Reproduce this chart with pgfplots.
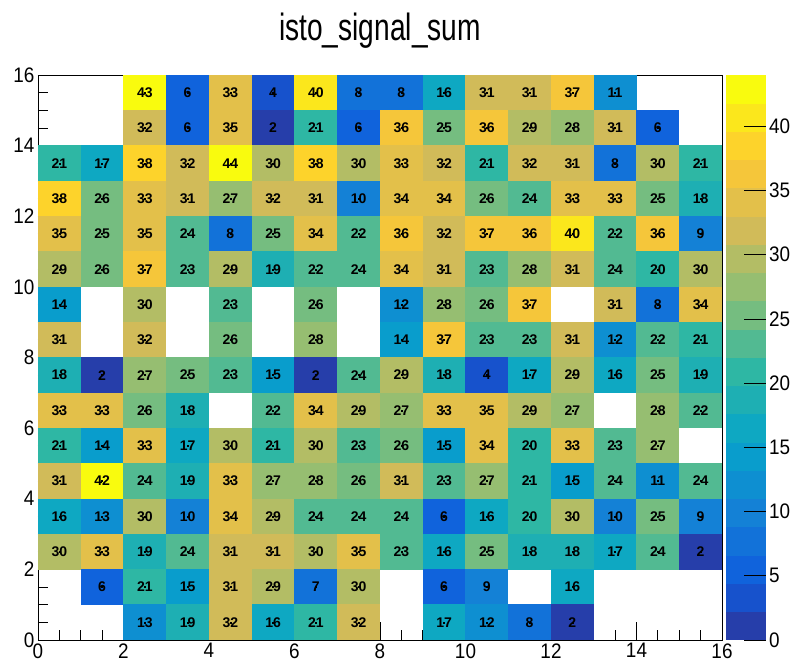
\documentclass[border=0pt]{standalone}
\usepackage{pgfplots}
\pgfplotsset{compat=1.18}
\usepackage{pgfplotstable}
\usepackage{fontspec}
\setmainfont{Liberation Sans}
\newfontfamily\titlefont[FakeStretch=0.74]{Liberation Sans}
\newfontfamily\tickfont[FakeStretch=0.9]{Liberation Sans}

\pgfplotsset{
  colormap={birdsteps}{
    rgb=(0.1486,0.2438,0.6649) rgb=(0.0890,0.3212,0.8006) rgb=(0.0630,0.3887,0.8624)
    rgb=(0.0705,0.4464,0.8505) rgb=(0.0780,0.5041,0.8385) rgb=(0.0561,0.5592,0.8197)
    rgb=(0.0342,0.6143,0.8008) rgb=(0.0546,0.6571,0.7616) rgb=(0.1174,0.6874,0.7021)
    rgb=(0.1802,0.7178,0.6425) rgb=(0.3202,0.7304,0.5720) rgb=(0.4601,0.7429,0.5015)
    rgb=(0.5878,0.7459,0.4429) rgb=(0.7032,0.7394,0.3964) rgb=(0.8186,0.7328,0.3499)
    rgb=(0.8894,0.7542,0.2887) rgb=(0.9602,0.7755,0.2274) rgb=(0.9918,0.8256,0.1682)
    rgb=(0.9841,0.9044,0.1110) rgb=(0.9764,0.9832,0.0539)
  }
}

\pgfplotstableread[row sep=\\]{
x y v \\
2.5 15.5 43 \\ 3.5 15.5 6 \\ 4.5 15.5 33 \\ 5.5 15.5 4 \\ 6.5 15.5 40 \\ 7.5 15.5 8 \\ 8.5 15.5 8 \\ 9.5 15.5 16 \\ 10.5 15.5 31 \\ 11.5 15.5 31 \\ 12.5 15.5 37 \\ 13.5 15.5 11 \\
2.5 14.5 32 \\ 3.5 14.5 6 \\ 4.5 14.5 35 \\ 5.5 14.5 2 \\ 6.5 14.5 21 \\ 7.5 14.5 6 \\ 8.5 14.5 36 \\ 9.5 14.5 25 \\ 10.5 14.5 36 \\ 11.5 14.5 29 \\ 12.5 14.5 28 \\ 13.5 14.5 31 \\ 14.5 14.5 6 \\
0.5 13.5 21 \\ 1.5 13.5 17 \\ 2.5 13.5 38 \\ 3.5 13.5 32 \\ 4.5 13.5 44 \\ 5.5 13.5 30 \\ 6.5 13.5 38 \\ 7.5 13.5 30 \\ 8.5 13.5 33 \\ 9.5 13.5 32 \\ 10.5 13.5 21 \\ 11.5 13.5 32 \\ 12.5 13.5 31 \\ 13.5 13.5 8 \\ 14.5 13.5 30 \\ 15.5 13.5 21 \\
0.5 12.5 38 \\ 1.5 12.5 26 \\ 2.5 12.5 33 \\ 3.5 12.5 31 \\ 4.5 12.5 27 \\ 5.5 12.5 32 \\ 6.5 12.5 31 \\ 7.5 12.5 10 \\ 8.5 12.5 34 \\ 9.5 12.5 34 \\ 10.5 12.5 26 \\ 11.5 12.5 24 \\ 12.5 12.5 33 \\ 13.5 12.5 33 \\ 14.5 12.5 25 \\ 15.5 12.5 18 \\
0.5 11.5 35 \\ 1.5 11.5 25 \\ 2.5 11.5 35 \\ 3.5 11.5 24 \\ 4.5 11.5 8 \\ 5.5 11.5 25 \\ 6.5 11.5 34 \\ 7.5 11.5 22 \\ 8.5 11.5 36 \\ 9.5 11.5 32 \\ 10.5 11.5 37 \\ 11.5 11.5 36 \\ 12.5 11.5 40 \\ 13.5 11.5 22 \\ 14.5 11.5 36 \\ 15.5 11.5 9 \\
0.5 10.5 29 \\ 1.5 10.5 26 \\ 2.5 10.5 37 \\ 3.5 10.5 23 \\ 4.5 10.5 29 \\ 5.5 10.5 19 \\ 6.5 10.5 22 \\ 7.5 10.5 24 \\ 8.5 10.5 34 \\ 9.5 10.5 31 \\ 10.5 10.5 23 \\ 11.5 10.5 28 \\ 12.5 10.5 31 \\ 13.5 10.5 24 \\ 14.5 10.5 20 \\ 15.5 10.5 30 \\
0.5 9.5 14 \\ 2.5 9.5 30 \\ 4.5 9.5 23 \\ 6.5 9.5 26 \\ 8.5 9.5 12 \\ 9.5 9.5 28 \\ 10.5 9.5 26 \\ 11.5 9.5 37 \\ 13.5 9.5 31 \\ 14.5 9.5 8 \\ 15.5 9.5 34 \\
0.5 8.5 31 \\ 2.5 8.5 32 \\ 4.5 8.5 26 \\ 6.5 8.5 28 \\ 8.5 8.5 14 \\ 9.5 8.5 37 \\ 10.5 8.5 23 \\ 11.5 8.5 23 \\ 12.5 8.5 31 \\ 13.5 8.5 12 \\ 14.5 8.5 22 \\ 15.5 8.5 21 \\
0.5 7.5 18 \\ 1.5 7.5 2 \\ 2.5 7.5 27 \\ 3.5 7.5 25 \\ 4.5 7.5 23 \\ 5.5 7.5 15 \\ 6.5 7.5 2 \\ 7.5 7.5 24 \\ 8.5 7.5 29 \\ 9.5 7.5 18 \\ 10.5 7.5 4 \\ 11.5 7.5 17 \\ 12.5 7.5 29 \\ 13.5 7.5 16 \\ 14.5 7.5 25 \\ 15.5 7.5 19 \\
0.5 6.5 33 \\ 1.5 6.5 33 \\ 2.5 6.5 26 \\ 3.5 6.5 18 \\ 5.5 6.5 22 \\ 6.5 6.5 34 \\ 7.5 6.5 29 \\ 8.5 6.5 27 \\ 9.5 6.5 33 \\ 10.5 6.5 35 \\ 11.5 6.5 29 \\ 12.5 6.5 27 \\ 14.5 6.5 28 \\ 15.5 6.5 22 \\
0.5 5.5 21 \\ 1.5 5.5 14 \\ 2.5 5.5 33 \\ 3.5 5.5 17 \\ 4.5 5.5 30 \\ 5.5 5.5 21 \\ 6.5 5.5 30 \\ 7.5 5.5 23 \\ 8.5 5.5 26 \\ 9.5 5.5 15 \\ 10.5 5.5 34 \\ 11.5 5.5 20 \\ 12.5 5.5 33 \\ 13.5 5.5 23 \\ 14.5 5.5 27 \\
0.5 4.5 31 \\ 1.5 4.5 42 \\ 2.5 4.5 24 \\ 3.5 4.5 19 \\ 4.5 4.5 33 \\ 5.5 4.5 27 \\ 6.5 4.5 28 \\ 7.5 4.5 26 \\ 8.5 4.5 31 \\ 9.5 4.5 23 \\ 10.5 4.5 27 \\ 11.5 4.5 21 \\ 12.5 4.5 15 \\ 13.5 4.5 24 \\ 14.5 4.5 11 \\ 15.5 4.5 24 \\
0.5 3.5 16 \\ 1.5 3.5 13 \\ 2.5 3.5 30 \\ 3.5 3.5 10 \\ 4.5 3.5 34 \\ 5.5 3.5 29 \\ 6.5 3.5 24 \\ 7.5 3.5 24 \\ 8.5 3.5 24 \\ 9.5 3.5 6 \\ 10.5 3.5 16 \\ 11.5 3.5 20 \\ 12.5 3.5 30 \\ 13.5 3.5 10 \\ 14.5 3.5 25 \\ 15.5 3.5 9 \\
0.5 2.5 30 \\ 1.5 2.5 33 \\ 2.5 2.5 19 \\ 3.5 2.5 24 \\ 4.5 2.5 31 \\ 5.5 2.5 31 \\ 6.5 2.5 30 \\ 7.5 2.5 35 \\ 8.5 2.5 23 \\ 9.5 2.5 16 \\ 10.5 2.5 25 \\ 11.5 2.5 18 \\ 12.5 2.5 18 \\ 13.5 2.5 17 \\ 14.5 2.5 24 \\ 15.5 2.5 2 \\
1.5 1.5 6 \\ 2.5 1.5 21 \\ 3.5 1.5 15 \\ 4.5 1.5 31 \\ 5.5 1.5 29 \\ 6.5 1.5 7 \\ 7.5 1.5 30 \\ 9.5 1.5 6 \\ 10.5 1.5 9 \\ 12.5 1.5 16 \\
2.5 0.5 13 \\ 3.5 0.5 19 \\ 4.5 0.5 32 \\ 5.5 0.5 16 \\ 6.5 0.5 21 \\ 7.5 0.5 32 \\ 9.5 0.5 17 \\ 10.5 0.5 12 \\ 11.5 0.5 8 \\ 12.5 0.5 2 \\
}\cells

\begin{document}
\begin{tikzpicture}
\useasboundingbox (-38pt,-28pt) rectangle (756pt,640pt);
\begin{axis}[
  scale only axis, width=684pt, height=565pt,
  xmin=0, xmax=16, ymin=0, ymax=16,
  xtick={0,2,...,16}, ytick={0,2,...,16},
  minor x tick num=3, minor y tick num=3,
  tick pos=left, tick align=inside,
  major tick length=18pt, minor tick length=10pt,
  tick style={black, line width=0.8pt},
  axis line style={line width=0.8pt},
  axis on top,
  /pgf/number format/assume math mode=true,
  ticklabel style={font=\tickfont\fontsize{21}{21}\selectfont},
  title={isto\_signal\_sum},
  title style={font=\titlefont\fontsize{38}{38}\selectfont, at={(0.5,1)}, anchor=base, yshift=28pt},
  colormap name=birdsteps,
  colormap access=piecewise constant,
  point meta min=0, point meta max=44,
  colorbar right,
  colorbar style={
    width=40pt, at={(parent axis.north east)}, anchor=north west, xshift=-5pt,
    ytick={0,5,...,40}, xtick=\empty,
    ytick pos=right, yticklabel pos=right,
    tick align=inside, major tick length=22pt,
    minor y tick num=0,
    tick style={black, line width=0.8pt},
    axis line style={draw=none},
    /pgf/number format/assume math mode=true,
    yticklabel style={font=\tickfont\fontsize{21}{21}\selectfont},
  },
]
% coloured cells
\addplot[scatter, only marks, mark=square*, mark size=0.5pt,
  mark options={draw=none, fill=none},
  point meta=explicit,
  scatter/@pre marker code/.code={%
    \pgfplotscolormapdefinemappedcolor{\pgfplotspointmetatransformed}%
    \pgfpathrectangle{\pgfpoint{-21.6pt}{-17.9pt}}{\pgfpoint{43.2pt}{35.8pt}}%
    \pgfsetfillcolor{mapped color}%
    \pgfusepath{fill}%
    \begin{scope}},
  scatter/@post marker code/.code={\end{scope}},
] table[x=x, y=y, meta=v] {\cells};
% numbers in cells
\addplot[draw=none, mark=none, point meta=explicit,
  nodes near coords,
  every node near coord/.append style={anchor=center, text=black,
    font=\bfseries\fontsize{14}{14}\selectfont},
] table[x=x, y=y, meta=v] {\cells};
\end{axis}
\end{tikzpicture}
\end{document}
